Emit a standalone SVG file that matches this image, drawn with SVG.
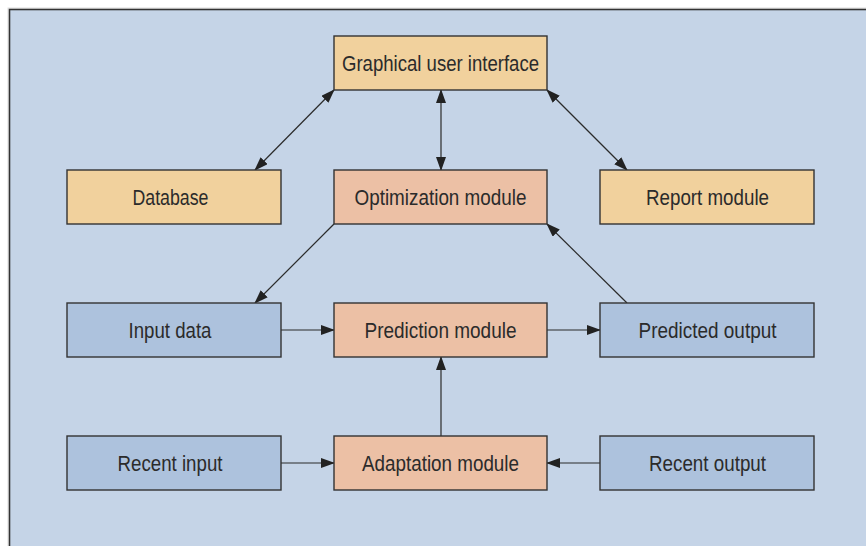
<svg xmlns="http://www.w3.org/2000/svg" width="866" height="546" viewBox="0 0 866 546">
<style>
.box{stroke:#333333;stroke-width:1.4}
.y{fill:#f1d19d}
.s{fill:#ecc0a5}
.b{fill:#adc2dd}
.t{font-family:"Liberation Sans Narrow","Liberation Sans",Arial,sans-serif;font-size:22px;fill:#2b2b2b;text-anchor:middle}
.c{stroke:#2b2b2b;stroke-width:1.2;fill:none}
</style>
<defs>
<marker id="ah" markerUnits="userSpaceOnUse" markerWidth="14" markerHeight="10" refX="13" refY="5" orient="auto-start-reverse" viewBox="0 0 14 10">
<path d="M0,0 L14,5 L0,10 Z" fill="#222222"/>
</marker>
</defs>
<rect x="0" y="0" width="866" height="546" fill="#ffffff"/>
<rect x="8" y="8" width="870" height="550" fill="none" stroke="#dddddd" stroke-width="1"/>
<rect x="9.5" y="9.5" width="870" height="550" fill="#c5d4e7" stroke="#333333" stroke-width="1.6"/>
<g id="connectors">
<line class="c" x1="255" y1="170" x2="334" y2="90" marker-start="url(#ah)" marker-end="url(#ah)"/>
<line class="c" x1="441" y1="90" x2="441" y2="170" marker-start="url(#ah)" marker-end="url(#ah)"/>
<line class="c" x1="547" y1="90" x2="627" y2="170" marker-start="url(#ah)" marker-end="url(#ah)"/>
<line class="c" x1="334" y1="224" x2="255" y2="303" marker-end="url(#ah)"/>
<line class="c" x1="627" y1="303" x2="547" y2="224" marker-end="url(#ah)"/>
<line class="c" x1="281" y1="330" x2="334" y2="330" marker-end="url(#ah)"/>
<line class="c" x1="547" y1="330" x2="600" y2="330" marker-end="url(#ah)"/>
<line class="c" x1="441" y1="436" x2="441" y2="357" marker-end="url(#ah)"/>
<line class="c" x1="281" y1="463" x2="334" y2="463" marker-end="url(#ah)"/>
<line class="c" x1="600" y1="463" x2="547" y2="463" marker-end="url(#ah)"/>
</g>
<g id="gui"><rect class="box y" x="334" y="36" width="213" height="54"/><text class="t" x="440.5" y="71" textLength="197" lengthAdjust="spacingAndGlyphs">Graphical user interface</text></g>
<g id="database"><rect class="box y" x="67" y="170" width="214" height="54"/><text class="t" x="170.5" y="205" textLength="76" lengthAdjust="spacingAndGlyphs">Database</text></g>
<g id="optimization"><rect class="box s" x="334" y="170" width="213" height="54"/><text class="t" x="440.5" y="205" textLength="172" lengthAdjust="spacingAndGlyphs">Optimization module</text></g>
<g id="report"><rect class="box y" x="600" y="170" width="214" height="54"/><text class="t" x="707.5" y="205" textLength="123" lengthAdjust="spacingAndGlyphs">Report module</text></g>
<g id="input-data"><rect class="box b" x="67" y="303" width="214" height="54"/><text class="t" x="170" y="338" textLength="83" lengthAdjust="spacingAndGlyphs">Input data</text></g>
<g id="prediction"><rect class="box s" x="334" y="303" width="213" height="54"/><text class="t" x="440.5" y="338" textLength="152" lengthAdjust="spacingAndGlyphs">Prediction module</text></g>
<g id="predicted-output"><rect class="box b" x="600" y="303" width="214" height="54"/><text class="t" x="707.5" y="338" textLength="138" lengthAdjust="spacingAndGlyphs">Predicted output</text></g>
<g id="recent-input"><rect class="box b" x="67" y="436" width="214" height="54"/><text class="t" x="170" y="471" textLength="105" lengthAdjust="spacingAndGlyphs">Recent input</text></g>
<g id="adaptation"><rect class="box s" x="334" y="436" width="213" height="54"/><text class="t" x="440.5" y="471" textLength="157" lengthAdjust="spacingAndGlyphs">Adaptation module</text></g>
<g id="recent-output"><rect class="box b" x="600" y="436" width="214" height="54"/><text class="t" x="707.5" y="471" textLength="117" lengthAdjust="spacingAndGlyphs">Recent output</text></g>
</svg>
